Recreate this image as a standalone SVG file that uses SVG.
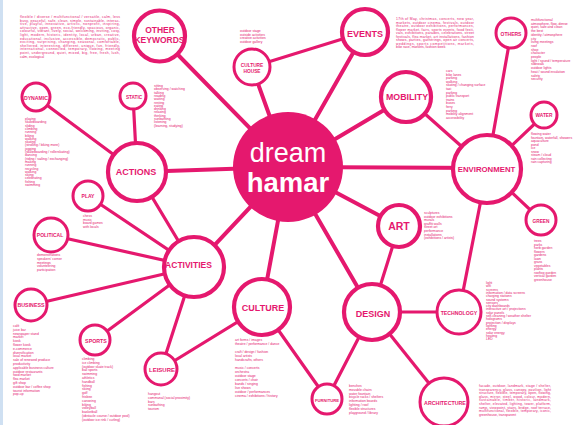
<svg xmlns="http://www.w3.org/2000/svg" width="584" height="425" viewBox="0 0 584 425">
<defs>
<style>
.ln{stroke:#e5186e;stroke-width:4;stroke-linecap:round;fill:none}
.ls{stroke:#e5186e;stroke-width:3.2;stroke-linecap:round;fill:none}
.rl{fill:#fff;stroke:#e5186e;stroke-width:4.2}
.rs{fill:#fff;stroke:#e5186e;stroke-width:3}
.lb{font-family:"Liberation Sans",Arial,sans-serif;font-weight:bold;fill:#e5186e;text-anchor:middle}
.t{font-family:"Liberation Sans",Arial,sans-serif;font-size:3.4px;fill:#e5186e}
.p{font-family:"Liberation Sans",Arial,sans-serif;font-size:3.4px;fill:#e5186e}
</style>
</defs>
<rect x="0" y="0" width="584" height="425" fill="#fff"/>
<rect x="0" y="0" width="3" height="425" fill="#cfe0f2"/>

<g id="connectors">
<line class="ln" x1="288" y1="167" x2="159.5" y2="36"/>
<line class="ln" x1="288" y1="167" x2="252" y2="67"/>
<line class="ln" x1="288" y1="167" x2="365" y2="32"/>
<line class="ln" x1="288" y1="167" x2="406" y2="97"/>
<line class="ln" x1="288" y1="167" x2="487" y2="168"/>
<line class="ln" x1="288" y1="167" x2="399" y2="226"/>
<line class="ln" x1="288" y1="167" x2="372" y2="312"/>
<line class="ln" x1="288" y1="167" x2="262" y2="307"/>
<line class="ln" x1="288" y1="167" x2="194" y2="267"/>
<line class="ln" x1="288" y1="167" x2="137" y2="172"/>
<line class="ls" x1="252" y1="67" x2="365" y2="32"/>
<line class="ls" x1="406" y1="97" x2="487" y2="169"/>
<line class="ls" x1="511" y1="33" x2="487" y2="169"/>
<line class="ls" x1="544" y1="115" x2="487" y2="169"/>
<line class="ls" x1="541" y1="220" x2="487" y2="169"/>
<line class="ls" x1="487" y1="169" x2="459" y2="312"/>
<line class="ls" x1="399" y1="226" x2="372" y2="312"/>
<line class="ls" x1="372" y1="312" x2="459" y2="312"/>
<line class="ls" x1="372" y1="312" x2="444" y2="402"/>
<line class="ls" x1="372" y1="312" x2="327" y2="399"/>
<line class="ls" x1="262" y1="307" x2="327" y2="399"/>
<line class="ls" x1="262" y1="307" x2="161" y2="369"/>
<line class="ls" x1="194" y1="267" x2="161" y2="369"/>
<line class="ls" x1="194" y1="267" x2="95" y2="340"/>
<line class="ls" x1="194" y1="267" x2="31" y2="305"/>
<line class="ls" x1="194" y1="267" x2="51" y2="235"/>
<line class="ls" x1="194" y1="267" x2="88" y2="196"/>
<line class="ls" x1="194" y1="267" x2="137" y2="172"/>
<line class="ls" x1="137" y1="172" x2="133" y2="96"/>
<line class="ls" x1="137" y1="172" x2="36" y2="97"/>
</g>

<g id="dream-hamar">
<circle cx="288" cy="167" r="55" fill="#e5186e"/>
<text x="288" y="161.5" font-family="'Liberation Sans',Arial,sans-serif" font-size="27" fill="#fff" text-anchor="middle">dream</text>
<text x="288" y="191.5" font-family="'Liberation Sans',Arial,sans-serif" font-size="27.5" font-weight="bold" fill="#fff" text-anchor="middle">hamar</text>
</g>

<g id="other-keywords">
<circle class="rl" cx="159.5" cy="36" r="25.5"/>
<text class="lb" x="160" y="33" font-size="8.5">OTHER</text>
<text class="lb" x="159.5" y="42.6" font-size="8.5">KEYWORDS</text>
<text class="p" x="20" y="18" textLength="100" lengthAdjust="spacing">flexible / diverse / multifunctional / versatile, calm, less</text>
<text class="p" x="20" y="21.6" textLength="100" lengthAdjust="spacing">busy, peaceful, safe, clean, simple, sustainable, interac-</text>
<text class="p" x="20" y="25.2" textLength="100" lengthAdjust="spacing">tive, playful, innovative, artistic, nonprofit, inspiring,</text>
<text class="p" x="20" y="28.8" textLength="100" lengthAdjust="spacing">attractive, open, green, eco-friendly, spacious, organic,</text>
<text class="p" x="20" y="32.4" textLength="100" lengthAdjust="spacing">colourful, vibrant, lively, social, welcoming, inviting, cosy,</text>
<text class="p" x="20" y="36" textLength="100" lengthAdjust="spacing">light, modern, historic, identity, local, urban, creative,</text>
<text class="p" x="20" y="39.6" textLength="100" lengthAdjust="spacing">educational, inclusive, accessible, democratic, public,</text>
<text class="p" x="20" y="43.2" textLength="100" lengthAdjust="spacing">exciting, surprising, changing, seasonal, comfortable,</text>
<text class="p" x="20" y="46.8" textLength="100" lengthAdjust="spacing">sheltered, interesting, different, unique, fun, friendly,</text>
<text class="p" x="20" y="50.4" textLength="100" lengthAdjust="spacing">international, connected, temporary, flowing, meeting</text>
<text class="p" x="20" y="54" textLength="100" lengthAdjust="spacing">point, underground, quiet, mixed, big, free, fresh, lush,</text>
<text class="p" x="20" y="57.6">calm, ecological</text>
</g>

<g id="culture-house">
<circle class="rs" cx="252" cy="67" r="18"/>
<text class="lb" x="252" y="67" font-size="4.8">CULTURE</text>
<text class="lb" x="252" y="72.5" font-size="4.8">HOUSE</text>
<text class="t" x="240" y="32"><tspan x="240">outdoor stage</tspan><tspan x="240" dy="3.6">outside activities</tspan><tspan x="240" dy="3.6">creative activities</tspan><tspan x="240" dy="3.6">outdoor gallery</tspan></text>
</g>

<g id="events">
<circle class="rl" cx="365" cy="32" r="23"/>
<text class="lb" x="365" y="37" font-size="9">EVENTS</text>
<text class="p" x="396" y="20" textLength="78" lengthAdjust="spacing">17th of May, christmas, concerts, new year,</text>
<text class="p" x="396" y="23.5" textLength="78" lengthAdjust="spacing">markets, outdoor cinema, festivals, outdoor</text>
<text class="p" x="396" y="27" textLength="78" lengthAdjust="spacing">theatre, outdoor exhibitions, performances,</text>
<text class="p" x="396" y="30.5" textLength="78" lengthAdjust="spacing">flower market, fairs, sports events, food festi-</text>
<text class="p" x="396" y="34" textLength="78" lengthAdjust="spacing">vals, exhibitions, parades, celebrations, street</text>
<text class="p" x="396" y="37.5" textLength="78" lengthAdjust="spacing">festivals, flea market, art installations, fashion</text>
<text class="p" x="396" y="41" textLength="78" lengthAdjust="spacing">shows, parties, gatherings, open air concerts,</text>
<text class="p" x="396" y="44.5" textLength="78" lengthAdjust="spacing">weddings, sports competitions, markets,</text>
<text class="p" x="396" y="48">bike race, markets, fashion week</text>
</g>

<g id="mobility">
<circle class="rl" cx="406" cy="97" r="25"/>
<text class="lb" x="407" y="100" font-size="8.8">MOBILITY</text>
<text class="t" x="446" y="72"><tspan x="446">cars</tspan><tspan x="446" dy="3.6">bike lanes</tspan><tspan x="446" dy="3.6">parking</tspan><tspan x="446" dy="3.6">walking</tspan><tspan x="446" dy="3.6">skating / changing surface</tspan><tspan x="446" dy="3.6">taxi</tspan><tspan x="446" dy="3.6">parking</tspan><tspan x="446" dy="3.6">public transport</tspan><tspan x="446" dy="3.6">trains</tspan><tspan x="446" dy="3.6">buses</tspan><tspan x="446" dy="3.6">ferry</tspan><tspan x="446" dy="3.6">parking</tspan><tspan x="446" dy="3.6">mobility alignment</tspan><tspan x="446" dy="3.6">accessibility</tspan></text>
</g>

<g id="others">
<circle class="rs" cx="511" cy="33" r="15"/>
<text class="lb" x="511" y="36" font-size="5">OTHERS</text>
<text class="t" x="531" y="21"><tspan x="531">multifunctional</tspan><tspan x="531" dy="3.7">atmosphere, flow, dense</tspan><tspan x="531" dy="3.7">quiet, safe and clean</tspan><tspan x="531" dy="3.7">the best</tspan><tspan x="531" dy="3.7">identity / atmosphere</tspan><tspan x="531" dy="3.7">city</tspan><tspan x="531" dy="3.7">living meetings</tspan><tspan x="531" dy="3.7">roof</tspan><tspan x="531" dy="3.7">shop</tspan><tspan x="531" dy="3.7">character</tspan><tspan x="531" dy="3.7">people</tspan><tspan x="531" dy="3.7">light / sound / temperature</tspan><tspan x="531" dy="3.7">sidewalk</tspan><tspan x="531" dy="3.7">outdoor lights</tspan><tspan x="531" dy="3.7">heat / sound insulation</tspan><tspan x="531" dy="3.7">safety</tspan><tspan x="531" dy="3.7">security</tspan></text>
</g>

<g id="water">
<circle class="rs" cx="544" cy="115" r="13"/>
<text class="lb" x="544" y="117" font-size="4.8">WATER</text>
<text class="t" x="531" y="135"><tspan x="531">flowing water</tspan><tspan x="531" dy="3.5">fountain, waterfall, showers</tspan><tspan x="531" dy="3.5">aquaculture</tspan><tspan x="531" dy="3.5">pond</tspan><tspan x="531" dy="3.5">ice</tspan><tspan x="531" dy="3.5">snow</tspan><tspan x="531" dy="3.5">steam / cloud</tspan><tspan x="531" dy="3.5">rain collecting</tspan><tspan x="531" dy="3.5">rain capturing</tspan></text>
</g>

<g id="environment">
<circle class="rl" cx="487" cy="169" r="34"/>
<text class="lb" x="486.5" y="171.5" font-size="7.8">ENVIRONMENT</text>
</g>

<g id="green">
<circle class="rs" cx="541" cy="220" r="15"/>
<text class="lb" x="541" y="222.5" font-size="4.8">GREEN</text>
<text class="t" x="534" y="242"><tspan x="534">trees</tspan><tspan x="534" dy="3.5">parks</tspan><tspan x="534" dy="3.5">herb garden</tspan><tspan x="534" dy="3.5">flowers</tspan><tspan x="534" dy="3.5">gardens</tspan><tspan x="534" dy="3.5">lawn</tspan><tspan x="534" dy="3.5">grass</tspan><tspan x="534" dy="3.5">vegetables</tspan><tspan x="534" dy="3.5">plants</tspan><tspan x="534" dy="3.5">rooftop garden</tspan><tspan x="534" dy="3.5">vertical garden</tspan><tspan x="534" dy="3.5">greenhouse</tspan></text>
</g>

<g id="art">
<circle class="rl" cx="399" cy="226" r="21"/>
<text class="lb" x="399" y="230" font-size="10.5">ART</text>
<text class="t" x="424" y="214"><tspan x="424">sculptures</tspan><tspan x="424" dy="3.6">outdoor exhibitions</tspan><tspan x="424" dy="3.6">murals</tspan><tspan x="424" dy="3.6">graffiti walls</tspan><tspan x="424" dy="3.6">street art</tspan><tspan x="424" dy="3.6">performance</tspan><tspan x="424" dy="3.6">installations</tspan><tspan x="424" dy="3.6">(exhibitions / artists)</tspan></text>
</g>

<g id="technology">
<circle class="rs" cx="459" cy="312" r="22"/>
<text class="lb" x="459" y="315" font-size="5.2">TECHNOLOGY</text>
<text class="t" x="486" y="284"><tspan x="486">light</tspan><tspan x="486" dy="3.3">wifi</tspan><tspan x="486" dy="3.3">screens</tspan><tspan x="486" dy="3.3">information / data screens</tspan><tspan x="486" dy="3.3">charging stations</tspan><tspan x="486" dy="3.3">sound systems</tspan><tspan x="486" dy="3.3">sensors</tspan><tspan x="486" dy="3.3">city dashboards</tspan><tspan x="486" dy="3.3">interactive art / projections</tspan><tspan x="486" dy="3.3">solar panels</tspan><tspan x="486" dy="3.3">self-cleaning / weather shelter</tspan><tspan x="486" dy="3.3">holograms</tspan><tspan x="486" dy="3.3">projection / displays</tspan><tspan x="486" dy="3.3">lighting</tspan><tspan x="486" dy="3.3">energy</tspan><tspan x="486" dy="3.3">solar energy</tspan><tspan x="486" dy="3.3">heating</tspan><tspan x="486" dy="3.3">LED</tspan></text>
</g>

<g id="architecture">
<circle class="rs" cx="444" cy="402" r="24"/>
<text class="lb" x="445" y="405" font-size="5.3">ARCHITECTURE</text>
<text class="p" x="479" y="387" textLength="72" lengthAdjust="spacing">facade, outdoor, landmark, stage / shelter,</text>
<text class="p" x="479" y="390.6" textLength="72" lengthAdjust="spacing">transparency, glass, canopy, pavilion, light</text>
<text class="p" x="479" y="394.2" textLength="72" lengthAdjust="spacing">structure, flexible, temporary, open, flowing,</text>
<text class="p" x="479" y="397.8" textLength="72" lengthAdjust="spacing">glass, mirror, steel, wood, colour, modern,</text>
<text class="p" x="479" y="401.4" textLength="72" lengthAdjust="spacing">sustainable, timber, historic, landmark,</text>
<text class="p" x="479" y="405" textLength="72" lengthAdjust="spacing">shelter, elevated, lighting, tower, platform,</text>
<text class="p" x="479" y="408.6" textLength="72" lengthAdjust="spacing">ramp, viewpoint, stairs, bridge, roof terrace,</text>
<text class="p" x="479" y="412.2" textLength="72" lengthAdjust="spacing">multifunctional, flexible, temporary, iconic,</text>
<text class="p" x="479" y="415.8">greenhouse, transparent</text>
</g>

<g id="design">
<circle class="rl" cx="372" cy="312" r="28"/>
<text class="lb" x="373" y="317" font-size="9">DESIGN</text>
</g>

<g id="furniture">
<circle class="rs" cx="327" cy="399" r="15"/>
<text class="lb" x="327" y="401.5" font-size="4.2">FURNITURE</text>
<text class="t" x="349" y="387"><tspan x="349">benches</tspan><tspan x="349" dy="3.8">movable chairs</tspan><tspan x="349" dy="3.8">water fountain</tspan><tspan x="349" dy="3.8">bicycle racks / shelters</tspan><tspan x="349" dy="3.8">information boards</tspan><tspan x="349" dy="3.8">lighting / roof</tspan><tspan x="349" dy="3.8">flexible structures</tspan><tspan x="349" dy="3.8">playground / library</tspan></text>
</g>

<g id="culture">
<circle class="rl" cx="262" cy="307" r="28"/>
<text class="lb" x="263" y="311" font-size="9">CULTURE</text>
<text class="t" x="235" y="341"><tspan x="235">art forms / images</tspan><tspan x="235" dy="4">theatre / performance / dance</tspan><tspan x="235" dy="8">craft / design / fashion</tspan><tspan x="235" dy="4">local artists</tspan><tspan x="235" dy="4">handicrafts, others</tspan><tspan x="235" dy="8">music / concerts</tspan><tspan x="235" dy="4">orchestra</tspan><tspan x="235" dy="4">outdoor stage</tspan><tspan x="235" dy="4">concerts / choir</tspan><tspan x="235" dy="4">bands / singing</tspan><tspan x="235" dy="4">live shows</tspan><tspan x="235" dy="4">outdoor / performances</tspan><tspan x="235" dy="4">cinema / exhibitions / history</tspan></text>
</g>

<g id="leisure">
<circle class="rs" cx="161" cy="369" r="16"/>
<text class="lb" x="162" y="372" font-size="6">LEISURE</text>
<text class="t" x="148" y="395"><tspan x="148">hangout</tspan><tspan x="148" dy="3.8">communal (social proximity)</tspan><tspan x="148" dy="3.8">bars</tspan><tspan x="148" dy="3.8">sunbathing</tspan><tspan x="148" dy="3.8">tourism</tspan></text>
</g>

<g id="activities">
<circle class="rl" cx="194" cy="267" r="30"/>
<text class="lb" x="188.5" y="268.3" font-size="8.5">ACTIVITIES</text>
</g>

<g id="sports">
<circle class="rs" cx="95" cy="340" r="15"/>
<text class="lb" x="96" y="343" font-size="5.3">SPORTS</text>
<text class="t" x="82" y="360"><tspan x="82">climbing</tspan><tspan x="82" dy="3.8">ice climbing</tspan><tspan x="82" dy="3.8">(outdoor skate track)</tspan><tspan x="82" dy="3.8">ball sports</tspan><tspan x="82" dy="3.8">swimming</tspan><tspan x="82" dy="3.8">athletics</tspan><tspan x="82" dy="3.8">handball</tspan><tspan x="82" dy="3.8">fishing</tspan><tspan x="82" dy="3.8">skiing</tspan><tspan x="82" dy="3.8">golf</tspan><tspan x="82" dy="3.8">frisbee</tspan><tspan x="82" dy="3.8">canoeing</tspan><tspan x="82" dy="3.8">biking</tspan><tspan x="82" dy="3.8">volleyball</tspan><tspan x="82" dy="3.8">basketball</tspan><tspan x="82" dy="3.8">(obstacle course / outdoor pool)</tspan><tspan x="82" dy="3.8">(outdoor ice rink / curling)</tspan></text>
</g>

<g id="business">
<circle class="rs" cx="31" cy="305" r="16"/>
<text class="lb" x="31" y="307" font-size="5.3">BUSINESS</text>
<text class="t" x="13" y="327"><tspan x="13">café</tspan><tspan x="13" dy="3.8">juice bar</tspan><tspan x="13" dy="3.8">newspaper stand</tspan><tspan x="13" dy="3.8">market</tspan><tspan x="13" dy="3.8">kiosk</tspan><tspan x="13" dy="3.8">flower kiosk</tspan><tspan x="13" dy="3.8">e-commerce</tspan><tspan x="13" dy="3.8">diversification</tspan><tspan x="13" dy="3.8">local market</tspan><tspan x="13" dy="3.8">sale of renewed produce</tspan><tspan x="13" dy="3.8">productivity</tspan><tspan x="13" dy="3.8">applicable business culture</tspan><tspan x="13" dy="3.8">outdoor restaurants</tspan><tspan x="13" dy="3.8">food market</tspan><tspan x="13" dy="3.8">flea market</tspan><tspan x="13" dy="3.8">gift shop</tspan><tspan x="13" dy="3.8">outdoor bar / coffee shop</tspan><tspan x="13" dy="3.8">tourist information</tspan><tspan x="13" dy="3.8">pop-up</tspan></text>
</g>

<g id="political">
<circle class="rs" cx="51" cy="235" r="17"/>
<text class="lb" x="50" y="236.5" font-size="5">POLITICAL</text>
<text class="t" x="37" y="256"><tspan x="37">demonstrations</tspan><tspan x="37" dy="3.8">speakers' corner</tspan><tspan x="37" dy="3.8">meetings</tspan><tspan x="37" dy="3.8">volunteering</tspan><tspan x="37" dy="3.8">participation</tspan></text>
</g>

<g id="play">
<circle class="rs" cx="88" cy="196" r="15"/>
<text class="lb" x="88" y="198" font-size="5">PLAY</text>
<text class="t" x="83" y="217"><tspan x="83">chess</tspan><tspan x="83" dy="3.7">music</tspan><tspan x="83" dy="3.7">board games</tspan><tspan x="83" dy="3.7">with locals</tspan></text>
</g>

<g id="actions">
<circle class="rl" cx="137" cy="172" r="29"/>
<text class="lb" x="136" y="174.5" font-size="9">ACTIONS</text>
</g>

<g id="static">
<circle class="rs" cx="133" cy="96" r="13"/>
<text class="lb" x="134" y="99" font-size="4.7">STATIC</text>
<text class="t" x="154" y="87"><tspan x="154">sitting</tspan><tspan x="154" dy="3.3">observing / watching</tspan><tspan x="154" dy="3.3">talking</tspan><tspan x="154" dy="3.3">reading</tspan><tspan x="154" dy="3.3">waiting</tspan><tspan x="154" dy="3.3">resting</tspan><tspan x="154" dy="3.3">eating</tspan><tspan x="154" dy="3.3">drinking</tspan><tspan x="154" dy="3.3">relaxing</tspan><tspan x="154" dy="3.3">thinking</tspan><tspan x="154" dy="3.3">sunbathing</tspan><tspan x="154" dy="3.3">listening</tspan><tspan x="154" dy="3.3">(learning, studying)</tspan></text>
</g>

<g id="dynamic">
<circle class="rs" cx="36" cy="97" r="14"/>
<text class="lb" x="36" y="99.5" font-size="5.2">DYNAMIC</text>
<text class="t" x="25" y="120"><tspan x="25">playing</tspan><tspan x="25" dy="3.3">skateboarding</tspan><tspan x="25" dy="3.3">sliding</tspan><tspan x="25" dy="3.3">climbing</tspan><tspan x="25" dy="3.3">running</tspan><tspan x="25" dy="3.3">biking</tspan><tspan x="25" dy="3.3">walking</tspan><tspan x="25" dy="3.3">skating</tspan><tspan x="25" dy="3.3">(strolling / biking more)</tspan><tspan x="25" dy="3.3">jogging</tspan><tspan x="25" dy="3.3">(skateboarding / rollerskating)</tspan><tspan x="25" dy="3.3">dancing</tspan><tspan x="25" dy="3.3">(riding / sailing / exchanging)</tspan><tspan x="25" dy="3.3">making</tspan><tspan x="25" dy="3.3">running</tspan><tspan x="25" dy="3.3">recycling</tspan><tspan x="25" dy="3.3">walking</tspan><tspan x="25" dy="3.3">skiing</tspan><tspan x="25" dy="3.3">celebrating</tspan><tspan x="25" dy="3.3">fishing</tspan><tspan x="25" dy="3.3">swimming</tspan></text>
</g>
</svg>
